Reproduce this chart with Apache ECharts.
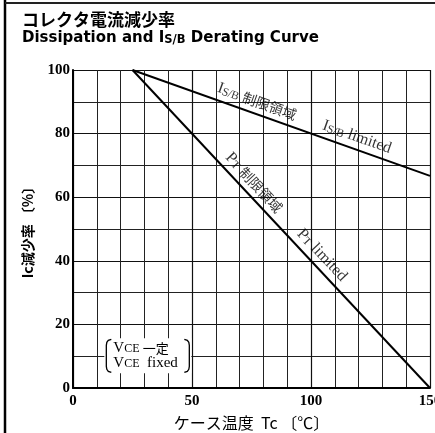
<!DOCTYPE html>
<html>
<head>
<meta charset="utf-8">
<script src="https://cdn.jsdelivr.net/npm/echarts@6/dist/echarts.min.js"></script>
<style>
  html, body { margin: 0; padding: 0; background: #fff; overflow: hidden; }
  #main { width: 435px; height: 433px; }
</style>
</head>
<body>
<div id="main"></div>
<script>
// Case temperature (°C) vs. collector current derating (%)
const isbLimited = [[25, 100], [150, 66.7]];   // Is/b limited region
const ptLimited  = [[25, 100], [150, 0]];      // Pt (dissipation) limited region

// Region captions placed along each curve: [x, y] anchor in data units
const isbCaptionJa = [77.3, 90.1];
const isbCaptionEn = [119.3, 78.9];
const ptCaptionJa  = [76.1, 64.6];
const ptCaptionEn  = [104.6, 41.8];

// Condition note box, top-left corner in data units
const noteAnchor = [14, 15.3];

const serif = '"Liberation Serif", "DejaVu Serif", "Noto Sans CJK JP", serif';
const gothic = '"Noto Sans CJK JP", "Noto Sans", sans-serif';

const captionRich = {
  b: { fontFamily: serif, fontSize: 16, color: '#000' },
  s: { fontFamily: serif, fontSize: 11.5, color: '#000', verticalAlign: 'bottom', padding: [4, 0, 0, 0] },
  j: { fontFamily: gothic, fontSize: 14, color: '#000' }
};

function caption(pos, text, rotate) {
  return {
    value: pos,
    label: {
      show: true,
      position: 'inside',
      rotate: rotate,
      formatter: text,
      rich: captionRich
    }
  };
}

const chart = echarts.init(document.getElementById('main'));

chart.setOption({
  animation: false,
  backgroundColor: '#fff',
  title: {
    left: 17,
    top: 6,
    itemGap: 3,
    text: 'コレクタ電流減少率',
    textStyle: { fontFamily: gothic, fontSize: 17, fontWeight: 'bold', color: '#000' },
    subtext: '{a|Dissipation and I}{s|S/B}{a| Derating Curve}',
    subtextStyle: {
      rich: {
        a: { fontFamily: '"DejaVu Sans", sans-serif', fontSize: 15, fontWeight: 'bold', color: '#000' },
        s: { fontFamily: '"DejaVu Sans", sans-serif', fontSize: 11.5, fontWeight: 'bold', color: '#000', verticalAlign: 'bottom' }
      }
    }
  },
  grid: { left: 73, right: 5, top: 70, bottom: 45, containLabel: false, outerBoundsMode: 'none' },
  xAxis: {
    type: 'value',
    min: 0, max: 150, interval: 50,
    name: 'ケース温度  Tc 〔℃〕',
    nameLocation: 'middle',
    nameGap: 27,
    nameTextStyle: { fontFamily: gothic, fontSize: 16, color: '#000' },
    axisLine: { show: true, lineStyle: { color: '#000', width: 2 } },
    axisTick: { show: false },
    axisLabel: { fontFamily: serif, fontSize: 15, fontWeight: 'bold', color: '#000', margin: 6 },
    splitLine: { show: true, lineStyle: { color: '#111', width: 1.2 } },
    minorTick: { show: false, splitNumber: 5 },
    minorSplitLine: { show: true, lineStyle: { color: '#222', width: 1 } }
  },
  yAxis: {
    type: 'value',
    min: 0, max: 100, interval: 20,
    name: 'Ic減少率 〔%〕',
    nameLocation: 'middle',
    nameGap: 38,
    nameRotate: 90,
    nameTextStyle: { fontFamily: gothic, fontSize: 14, fontWeight: 'bold', color: '#000' },
    axisLine: { show: true, lineStyle: { color: '#000', width: 2 } },
    axisTick: { show: false },
    axisLabel: { fontFamily: serif, fontSize: 15, fontWeight: 'bold', color: '#000', margin: 3 },
    splitLine: { show: true, lineStyle: { color: '#111', width: 1.2 } },
    minorTick: { show: false, splitNumber: 2 },
    minorSplitLine: { show: true, lineStyle: { color: '#222', width: 1 } }
  },
  series: [
    {
      type: 'line',
      data: isbLimited,
      symbol: 'none',
      lineStyle: { color: '#000', width: 2 },
      z: 5
    },
    {
      type: 'line',
      data: ptLimited,
      symbol: 'none',
      lineStyle: { color: '#000', width: 2 },
      z: 5
    },
    {
      type: 'scatter',
      symbolSize: 1,
      itemStyle: { color: 'rgba(0,0,0,0)' },
      silent: true,
      z: 6,
      data: [
        caption(isbCaptionJa, '{b|I}{s|S/B}{b| }{j|制限領域}', -19.6),
        caption(isbCaptionEn, '{b|I}{s|S/B}{b| limited}', -19.6),
        caption(ptCaptionJa, '{b|P}{s|T}{b| }{j|制限領域}', -46.9),
        caption(ptCaptionEn, '{b|P}{s|T}{b| limited}', -46.9)
      ]
    }
  ]
});

// Page frame and the VCE condition note, positioned through the axis scales
const p = chart.convertToPixel({ gridIndex: 0 }, noteAnchor);
const nx = p[0], ny = p[1];
const noteW = 83, noteH = 33;

function bracket(x, dir) {
  // dir = 1 opens to the right (left bracket), -1 opens to the left
  return [
    [x + 5 * dir, ny], [x + 2 * dir, ny + 1], [x + 0.5 * dir, ny + 3], [x, ny + 6],
    [x, ny + noteH - 6], [x + 0.5 * dir, ny + noteH - 3], [x + 2 * dir, ny + noteH - 1], [x + 5 * dir, ny + noteH]
  ];
}

const noteRich = {
  v: { fontFamily: serif, fontSize: 15, color: '#000' },
  c: { fontFamily: serif, fontSize: 12, color: '#000' },
  j: { fontFamily: gothic, fontSize: 13, color: '#000' }
};

chart.setOption({
  graphic: [
    { type: 'line', shape: { x1: 5, y1: 0, x2: 5, y2: 433 }, style: { stroke: '#000', lineWidth: 2.5 }, z: 100 },
    { type: 'line', shape: { x1: 5, y1: 3, x2: 435, y2: 3 }, style: { stroke: '#222', lineWidth: 2 }, z: 100 },
    { type: 'rect', shape: { x: nx - 2, y: ny - 1, width: noteW + 4, height: noteH + 2 }, style: { fill: '#fff' }, z: 100 },
    { type: 'polyline', shape: { points: bracket(nx, 1) }, style: { stroke: '#000', lineWidth: 1.3, fill: null }, z: 101 },
    { type: 'polyline', shape: { points: bracket(nx + noteW, -1) }, style: { stroke: '#000', lineWidth: 1.3, fill: null }, z: 101 },
    {
      type: 'text', x: nx + 7, y: ny + 9, z: 101,
      style: { text: '{v|V}{c|CE} {j|一定}', rich: noteRich, verticalAlign: 'middle' }
    },
    {
      type: 'text', x: nx + 7, y: ny + 24, z: 101,
      style: { text: '{v|V}{c|CE}{v|  fixed}', rich: noteRich, verticalAlign: 'middle' }
    }
  ]
});
</script>
</body>
</html>
